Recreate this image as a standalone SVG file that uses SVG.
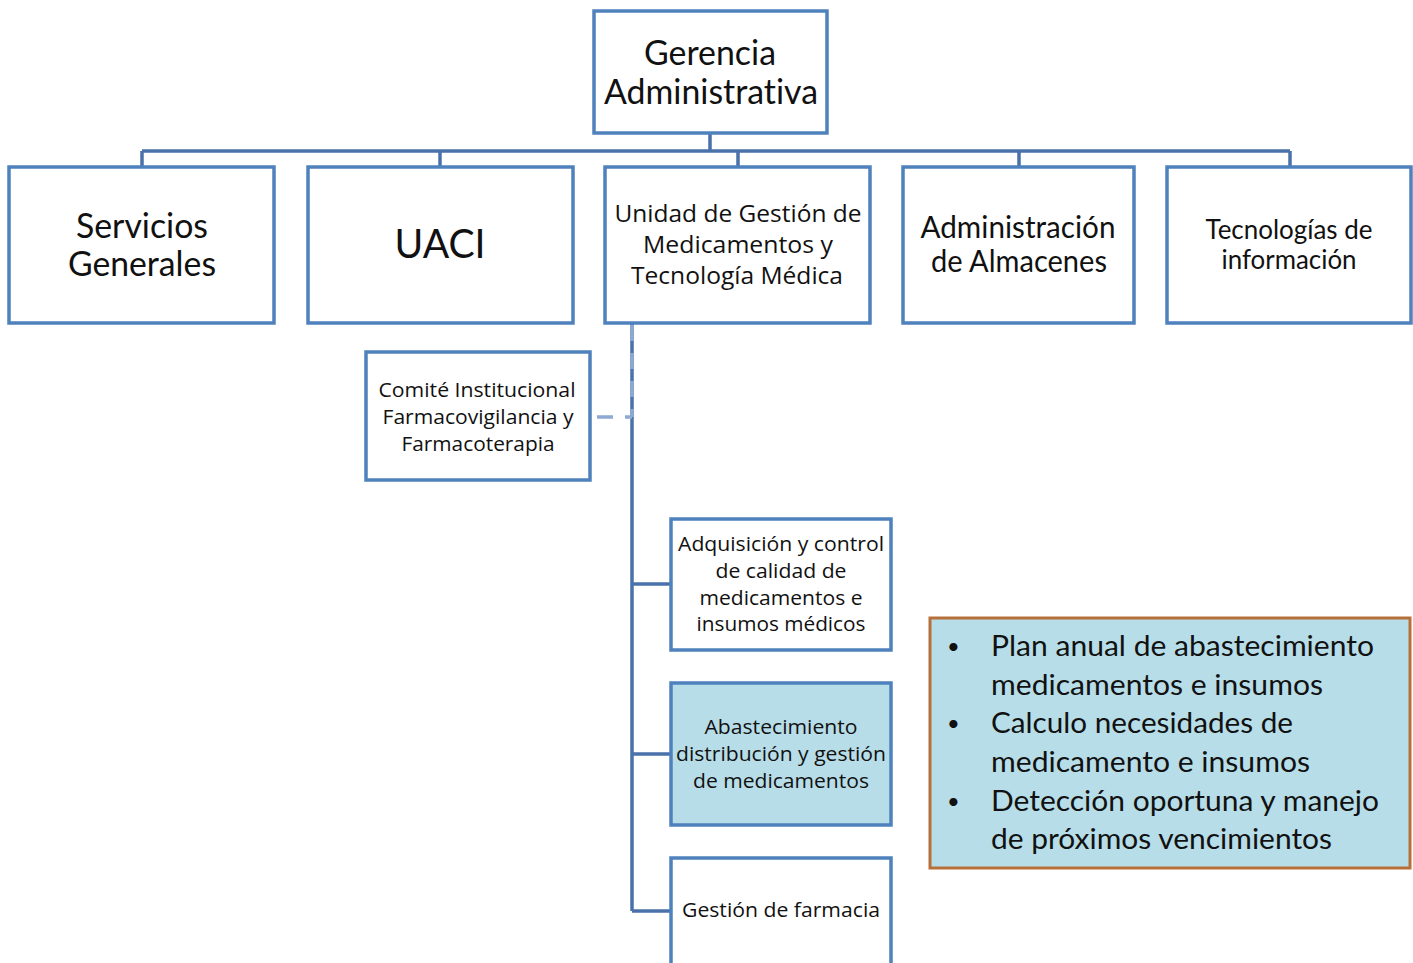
<svg xmlns="http://www.w3.org/2000/svg" width="1413" height="963" viewBox="0 0 1413 963">
  <style>
    text { font-variant-ligatures: none; }
    .box { fill: #ffffff; stroke: #4f81bd; stroke-width: 3.5; }
    .hl { fill: #b7dde8; stroke: #4f81bd; stroke-width: 3.5; }
    .note { fill: #b7dde8; stroke: #b8703a; stroke-width: 3; }
    .line { fill: none; stroke: #4a72aa; stroke-width: 3.5; }
    .dash { fill: none; stroke: #8eaad2; stroke-width: 3.5; stroke-dasharray: 16 12; }
    .gs { font-family: Lato, "Open Sans", sans-serif; fill: #111111; text-anchor: middle; }
    .cb { font-family: "Open Sans", "Noto Sans", sans-serif; fill: #111111; text-anchor: middle; }
    .bl { font-family: Lato, "Open Sans", sans-serif; fill: #111111; font-size: 29px; }
    .dot { font-family: Lato, "Open Sans", sans-serif; fill: #111111; font-size: 22px; }
  </style>

  <!-- connectors -->
  <g id="connectors">
    <path class="line" d="M710 133 V151 M142 151 H1290 M142 151 V167 M440 151 V167 M738 151 V167 M1019 151 V167 M1290 151 V167"/>
    <path class="line" d="M632 323 V911 M632 584 H671 M632 754 H671 M632 911 H671"/>
    <path class="dash" d="M632 325 V417"/>
    <path class="dash" d="M597 417 H632"/>
  </g>

  <g id="gerencia">
    <rect class="box" x="594" y="11" width="233" height="122"/>
    <text class="gs" font-size="34" x="710" y="65" textLength="132" lengthAdjust="spacingAndGlyphs">Gerencia</text>
    <text class="gs" font-size="34" x="711" y="104" textLength="214" lengthAdjust="spacingAndGlyphs">Administrativa</text>
  </g>

  <g id="servicios">
    <rect class="box" x="9" y="167" width="265" height="156"/>
    <text class="gs" font-size="34" x="142" y="238" textLength="132" lengthAdjust="spacingAndGlyphs">Servicios</text>
    <text class="gs" font-size="34" x="142" y="276" textLength="148" lengthAdjust="spacingAndGlyphs">Generales</text>
  </g>

  <g id="uaci">
    <rect class="box" x="308" y="167" width="265" height="156"/>
    <text class="gs" font-size="40" x="440" y="258" textLength="91" lengthAdjust="spacingAndGlyphs">UACI</text>
  </g>

  <g id="unidad">
    <rect class="box" x="605" y="167" width="265" height="156"/>
    <text class="cb" font-size="23" x="738" y="222" textLength="247" lengthAdjust="spacingAndGlyphs">Unidad de Gestión de</text>
    <text class="cb" font-size="23" x="738" y="253" textLength="190" lengthAdjust="spacingAndGlyphs">Medicamentos y</text>
    <text class="cb" font-size="23" x="737" y="284" textLength="212" lengthAdjust="spacingAndGlyphs">Tecnología Médica</text>
  </g>

  <g id="almacenes">
    <rect class="box" x="903" y="167" width="231" height="156"/>
    <text class="gs" font-size="30" x="1018" y="238" textLength="195" lengthAdjust="spacingAndGlyphs">Administración</text>
    <text class="gs" font-size="30" x="1019" y="272" textLength="176" lengthAdjust="spacingAndGlyphs">de Almacenes</text>
  </g>

  <g id="tecnologias">
    <rect class="box" x="1167" y="167" width="244" height="156"/>
    <text class="gs" font-size="26" x="1289" y="239" textLength="167" lengthAdjust="spacingAndGlyphs">Tecnologías de</text>
    <text class="gs" font-size="26" x="1289" y="269" textLength="135" lengthAdjust="spacingAndGlyphs">información</text>
  </g>

  <g id="comite">
    <rect class="box" x="366" y="352" width="224" height="128"/>
    <text class="cb" font-size="20" x="477" y="397" textLength="197" lengthAdjust="spacingAndGlyphs">Comité Institucional</text>
    <text class="cb" font-size="20" x="478" y="424" textLength="191" lengthAdjust="spacingAndGlyphs">Farmacovigilancia y</text>
    <text class="cb" font-size="20" x="478" y="451" textLength="153" lengthAdjust="spacingAndGlyphs">Farmacoterapia</text>
  </g>

  <g id="adquisicion">
    <rect class="box" x="671" y="519" width="220" height="131"/>
    <text class="cb" font-size="20" x="781" y="551" textLength="206" lengthAdjust="spacingAndGlyphs">Adquisición y control</text>
    <text class="cb" font-size="20" x="781" y="578" textLength="131" lengthAdjust="spacingAndGlyphs">de calidad de</text>
    <text class="cb" font-size="20" x="781" y="605" textLength="163" lengthAdjust="spacingAndGlyphs">medicamentos e</text>
    <text class="cb" font-size="20" x="781" y="631" textLength="169" lengthAdjust="spacingAndGlyphs">insumos médicos</text>
  </g>

  <g id="abastecimiento">
    <rect class="hl" x="671" y="683" width="220" height="142"/>
    <text class="cb" font-size="20" x="781" y="734" textLength="153" lengthAdjust="spacingAndGlyphs">Abastecimiento</text>
    <text class="cb" font-size="20" x="781" y="761" textLength="210" lengthAdjust="spacingAndGlyphs">distribución y gestión</text>
    <text class="cb" font-size="20" x="781" y="788" textLength="176" lengthAdjust="spacingAndGlyphs">de medicamentos</text>
  </g>

  <g id="farmacia">
    <rect class="box" x="671" y="858" width="220" height="120"/>
    <text class="cb" font-size="20" x="781" y="917" textLength="198" lengthAdjust="spacingAndGlyphs">Gestión de farmacia</text>
  </g>

  <g id="funciones">
    <rect class="note" x="930" y="618" width="480" height="250"/>
    <text class="dot" x="947" y="654">•</text>
    <text class="dot" x="947" y="731">•</text>
    <text class="dot" x="947" y="809">•</text>
    <text class="bl" x="991" y="656" textLength="383" lengthAdjust="spacingAndGlyphs">Plan anual de abastecimiento</text>
    <text class="bl" x="991" y="695" textLength="332" lengthAdjust="spacingAndGlyphs">medicamentos e insumos</text>
    <text class="bl" x="991" y="733" textLength="302" lengthAdjust="spacingAndGlyphs">Calculo necesidades  de</text>
    <text class="bl" x="991" y="772" textLength="319" lengthAdjust="spacingAndGlyphs">medicamento e insumos</text>
    <text class="bl" x="991" y="811" textLength="388" lengthAdjust="spacingAndGlyphs">Detección oportuna y manejo</text>
    <text class="bl" x="991" y="849" textLength="341" lengthAdjust="spacingAndGlyphs">de próximos vencimientos</text>
  </g>
</svg>
